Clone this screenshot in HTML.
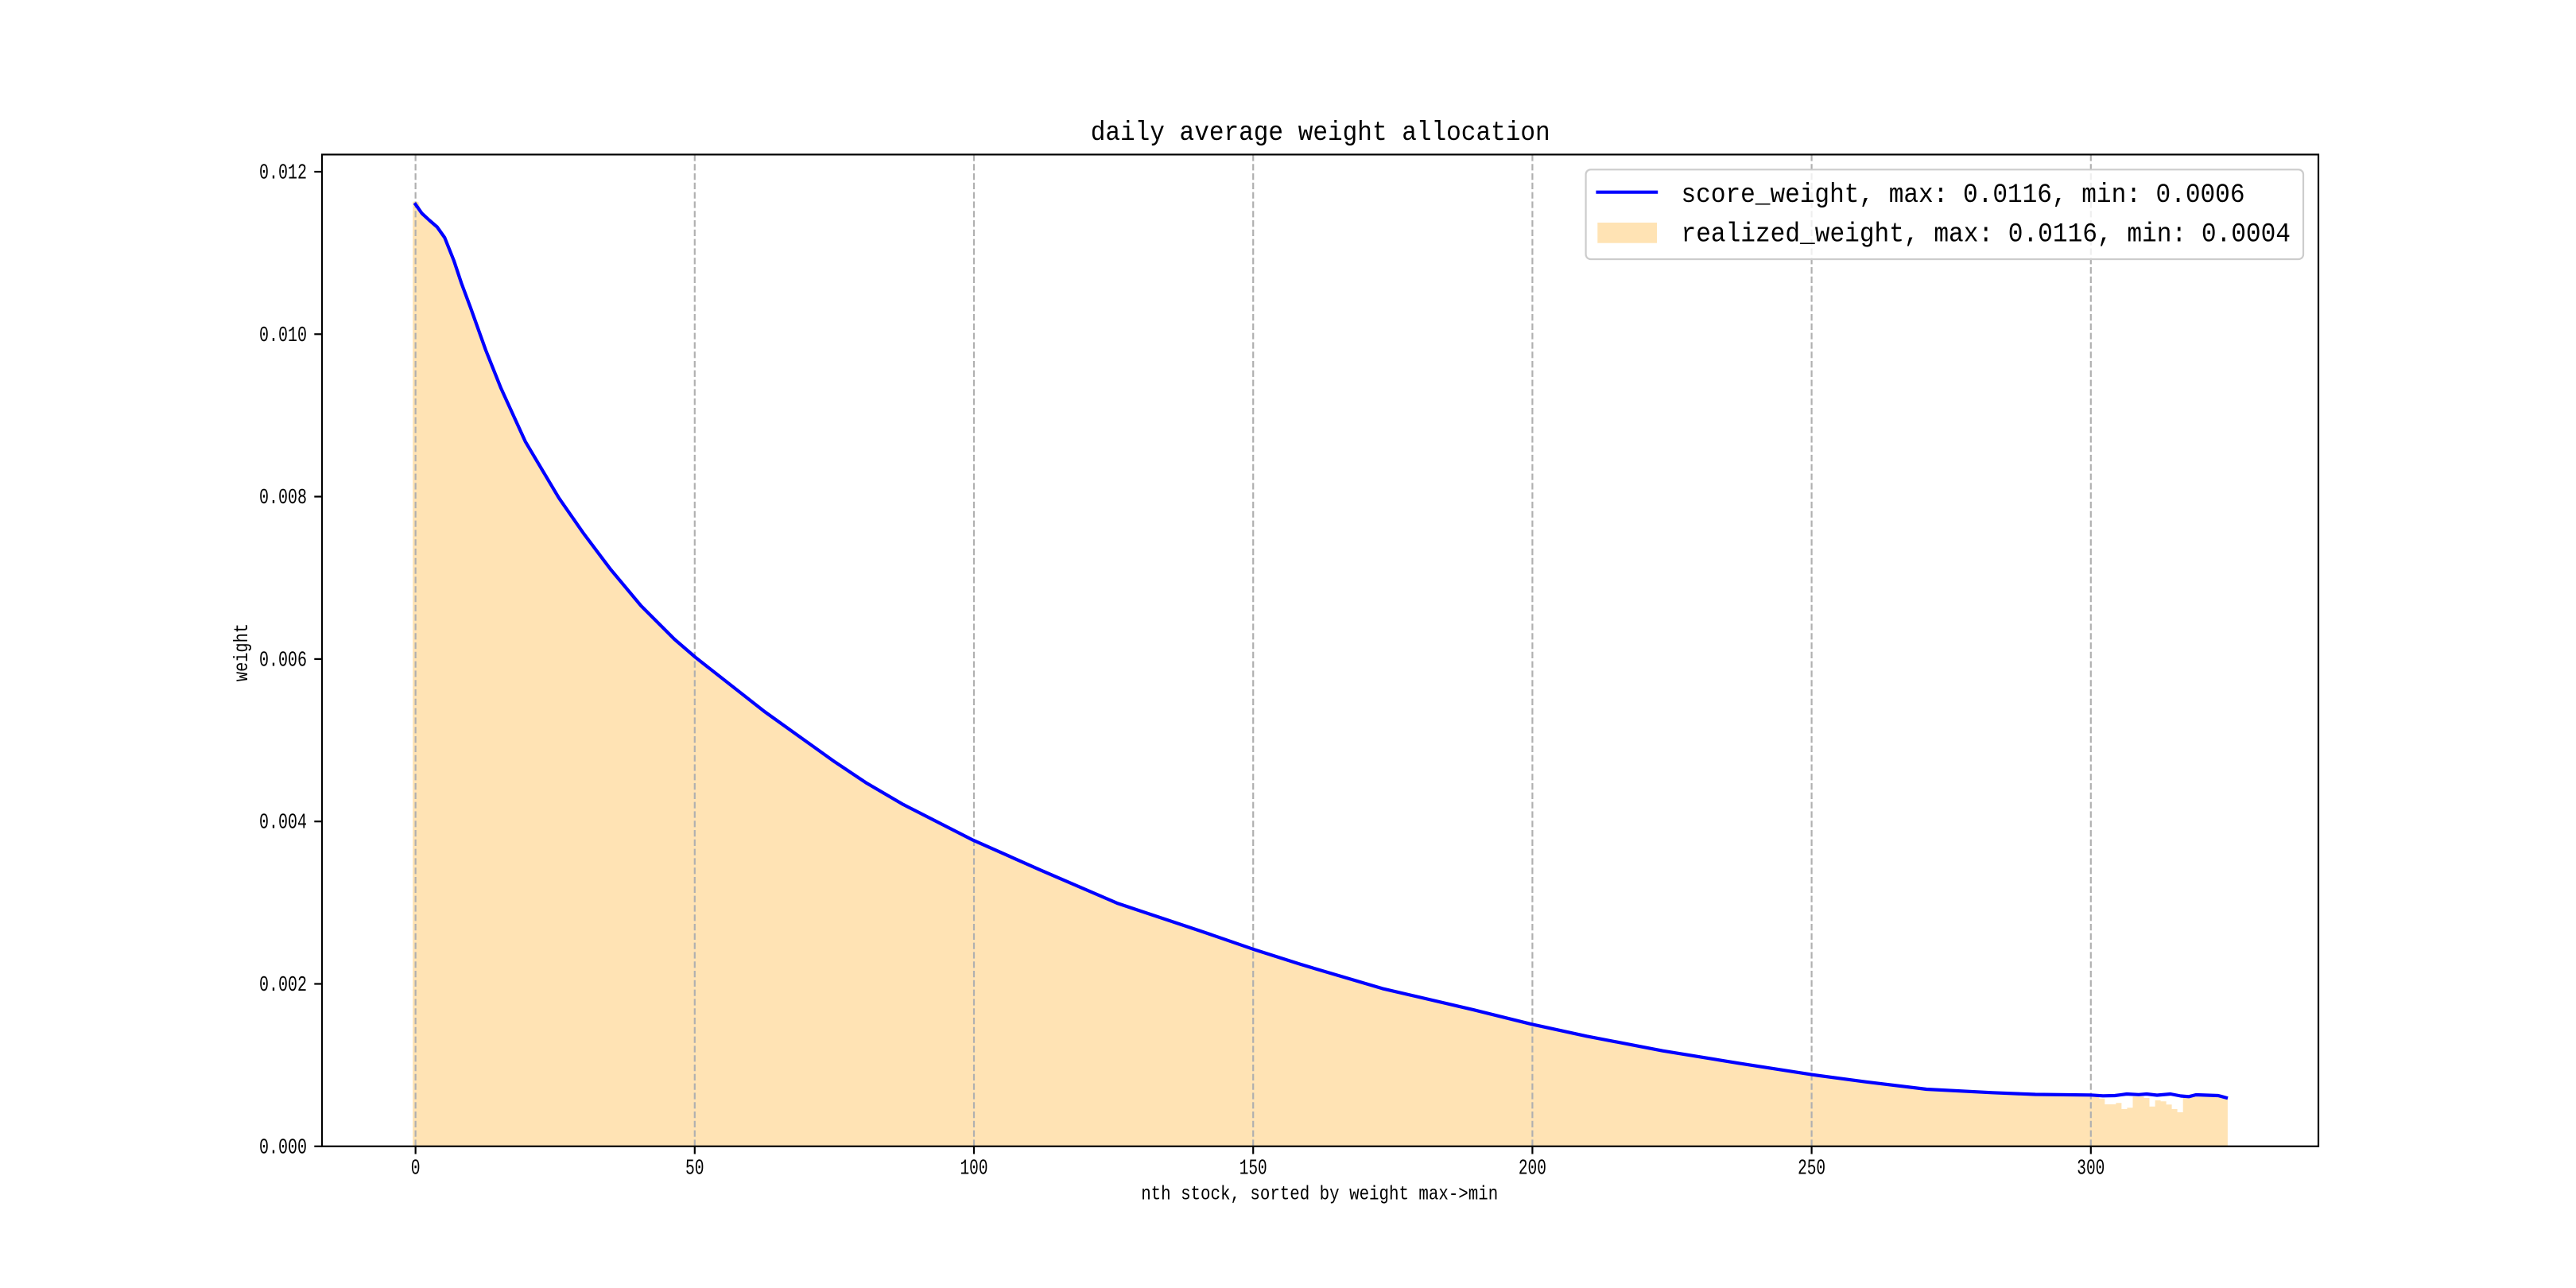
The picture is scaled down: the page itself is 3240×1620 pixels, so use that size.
<!DOCTYPE html>
<html><head><meta charset="utf-8"><style>
html,body{margin:0;padding:0;background:#fff;}
svg{display:block;}
text{font-family:"Liberation Mono","WenQuanYi Zen Hei",monospace;fill:#000;}
</style></head><body>
<svg width="3240" height="1620" viewBox="0 0 3240 1620" xmlns="http://www.w3.org/2000/svg">
<rect x="0" y="0" width="3240" height="1620" fill="#fff"/>
<polygon fill="#FFE3B4" points="519.1,1441.8 519.1,253.7 526.1,253.7 530.6,268.3 540,277 549.8,285.5 559.3,298.9 570.8,327.6 580.4,356.3 591.8,386.9 611,440.5 630.1,488.3 660.7,555.3 702.8,626.1 733.4,670.1 767.9,716 806.2,761.9 848.3,804 875,827 961.6,895 1050,958.3 1090.2,985.1 1136.1,1011.9 1222.2,1055.9 1308.3,1094.2 1405.9,1136.3 1509.2,1170.7 1575.8,1193.7 1635.5,1212.8 1738.9,1243.4 1853.7,1270.2 1926.8,1288.3 1995.7,1303.3 2091.3,1321.7 2187,1337.3 2279.5,1351.7 2346.4,1360.7 2423,1370 2505.9,1374.3 2560,1376.5 2630,1377.3 2640.3,1378 2640.3,1381.7 2647.3,1381.7 2647.3,1389 2661.4,1389 2661.4,1387.3 2668.4,1387.3 2668.4,1395 2675.4,1395 2675.4,1393.3 2682.5,1393.3 2682.5,1379.3 2696.5,1379.3 2696.5,1381 2703.5,1381 2703.5,1391.7 2710.6,1391.7 2710.6,1384 2717.6,1384 2717.6,1385.3 2724.6,1385.3 2724.6,1389.3 2731.6,1389.3 2731.6,1395 2738.6,1395 2738.6,1399 2745.7,1399 2745.7,1379.5 2801.9,1379.5 2801.9,1441.8"/>
<g stroke="#b0b0b0" stroke-width="2.2" stroke-dasharray="8.2 3.6" fill="none">
<line x1="522.65" y1="194.4" x2="522.65" y2="1441.8"/>
<line x1="873.8" y1="194.4" x2="873.8" y2="1441.8"/>
<line x1="1225" y1="194.4" x2="1225" y2="1441.8"/>
<line x1="1576.2" y1="194.4" x2="1576.2" y2="1441.8"/>
<line x1="1927.4" y1="194.4" x2="1927.4" y2="1441.8"/>
<line x1="2278.6" y1="194.4" x2="2278.6" y2="1441.8"/>
<line x1="2629.8" y1="194.4" x2="2629.8" y2="1441.8"/>
</g>
<polyline fill="none" stroke="#0000ff" stroke-width="4.2" stroke-linejoin="round" stroke-linecap="square" points="522.6,257 530.6,268.3 540,277 549.8,285.5 559.3,298.9 570.8,327.6 580.4,356.3 591.8,386.9 611,440.5 630.1,488.3 660.7,555.3 702.8,626.1 733.4,670.1 767.9,716 806.2,761.9 848.3,804 875,827 961.6,895 1050,958.3 1090.2,985.1 1136.1,1011.9 1222.2,1055.9 1308.3,1094.2 1405.9,1136.3 1509.2,1170.7 1575.8,1193.7 1635.5,1212.8 1738.9,1243.4 1853.7,1270.2 1926.8,1288.3 1995.7,1303.3 2091.3,1321.7 2187,1337.3 2279.5,1351.7 2346.4,1360.7 2423,1370 2505.9,1374.3 2560,1376.5 2630,1377.3 2645,1378.3 2660,1378 2675,1376 2690,1376.8 2700,1376 2713,1377.5 2730,1376 2743,1378.5 2753,1379.3 2762,1377 2790,1378 2800,1380.7"/>
<rect x="405" y="194.4" width="2511" height="1247.4" fill="none" stroke="#000" stroke-width="2.2"/>
<g stroke="#000" stroke-width="2.2">
<line x1="395.3" y1="1441.8" x2="405" y2="1441.8"/>
<line x1="395.3" y1="1237.5" x2="405" y2="1237.5"/>
<line x1="395.3" y1="1033.2" x2="405" y2="1033.2"/>
<line x1="395.3" y1="828.9" x2="405" y2="828.9"/>
<line x1="395.3" y1="624.6" x2="405" y2="624.6"/>
<line x1="395.3" y1="420.3" x2="405" y2="420.3"/>
<line x1="395.3" y1="216" x2="405" y2="216"/>
<line x1="522.65" y1="1441.8" x2="522.65" y2="1451.5"/>
<line x1="873.8" y1="1441.8" x2="873.8" y2="1451.5"/>
<line x1="1225" y1="1441.8" x2="1225" y2="1451.5"/>
<line x1="1576.2" y1="1441.8" x2="1576.2" y2="1451.5"/>
<line x1="1927.4" y1="1441.8" x2="1927.4" y2="1451.5"/>
<line x1="2278.6" y1="1441.8" x2="2278.6" y2="1451.5"/>
<line x1="2629.8" y1="1441.8" x2="2629.8" y2="1451.5"/>
</g>
<g font-size="27" text-anchor="end">
<text x="386" y="1450.3" textLength="60" lengthAdjust="spacingAndGlyphs">0.000</text>
<text x="386" y="1246" textLength="60" lengthAdjust="spacingAndGlyphs">0.002</text>
<text x="386" y="1041.7" textLength="60" lengthAdjust="spacingAndGlyphs">0.004</text>
<text x="386" y="837.4" textLength="60" lengthAdjust="spacingAndGlyphs">0.006</text>
<text x="386" y="633.1" textLength="60" lengthAdjust="spacingAndGlyphs">0.008</text>
<text x="386" y="428.8" textLength="60" lengthAdjust="spacingAndGlyphs">0.010</text>
<text x="386" y="224.5" textLength="60" lengthAdjust="spacingAndGlyphs">0.012</text>
</g>
<g font-size="27" text-anchor="middle">
<text x="522.65" y="1476.5" textLength="11.8" lengthAdjust="spacingAndGlyphs">0</text>
<text x="873.8" y="1476.5" textLength="23.6" lengthAdjust="spacingAndGlyphs">50</text>
<text x="1225" y="1476.5" textLength="35" lengthAdjust="spacingAndGlyphs">100</text>
<text x="1576.2" y="1476.5" textLength="35" lengthAdjust="spacingAndGlyphs">150</text>
<text x="1927.4" y="1476.5" textLength="35" lengthAdjust="spacingAndGlyphs">200</text>
<text x="2278.6" y="1476.5" textLength="35" lengthAdjust="spacingAndGlyphs">250</text>
<text x="2629.8" y="1476.5" textLength="35" lengthAdjust="spacingAndGlyphs">300</text>
</g>
<text x="1659.7" y="1508.3" font-size="25" text-anchor="middle" textLength="449" lengthAdjust="spacingAndGlyphs">nth stock, sorted by weight max-&gt;min</text>
<text x="0" y="0" font-size="25" text-anchor="middle" textLength="73" lengthAdjust="spacingAndGlyphs" transform="translate(311,820.6) rotate(-90)">weight</text>
<text x="1371.7" y="176" font-size="34" textLength="578" lengthAdjust="spacingAndGlyphs">daily average weight allocation</text>
<rect x="1994.6" y="213.3" width="902.4" height="112.7" rx="6" ry="6" fill="rgba(255,255,255,0.8)" stroke="#cccccc" stroke-width="2.2"/>
<line x1="2007.4" y1="241.7" x2="2085.2" y2="241.7" stroke="#0000ff" stroke-width="4.2"/>
<rect x="2009.3" y="280" width="74.7" height="25.7" fill="#FFE3B4"/>
<text x="2114.5" y="254" font-size="34" textLength="709" lengthAdjust="spacingAndGlyphs">score_weight, max: 0.0116, min: 0.0006</text>
<text x="2114.5" y="303.3" font-size="34" textLength="766.5" lengthAdjust="spacingAndGlyphs">realized_weight, max: 0.0116, min: 0.0004</text>
</svg>
</body></html>
